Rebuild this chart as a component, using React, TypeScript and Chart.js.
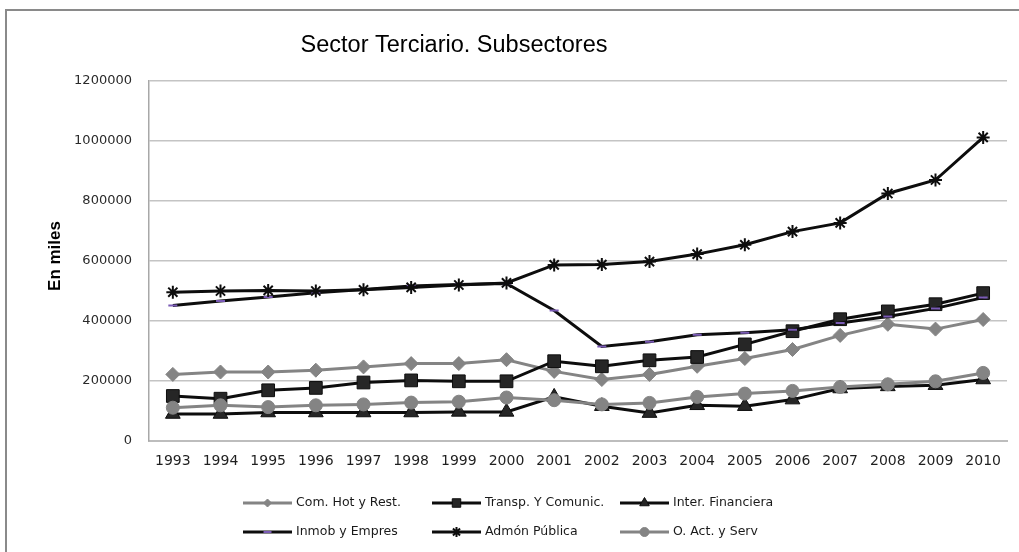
import { useEffect, useRef } from 'react';
import { Chart, registerables } from 'chart.js';
import { drawPoint } from 'chart.js/helpers';

Chart.register(...registerables);

const chartTitle = 'Sector Terciario. Subsectores';
const yAxisTitle = 'En miles';

const years = ['1993', '1994', '1995', '1996', '1997', '1998', '1999', '2000', '2001', '2002', '2003', '2004', '2005', '2006', '2007', '2008', '2009', '2010'];

const comHotRest = [222000, 230000, 230000, 236000, 247000, 258000, 258000, 271000, 232000, 205000, 222000, 249000, 275000, 305000, 352000, 389000, 373000, 405000];
const transpComunic = [150000, 141000, 169000, 177000, 195000, 202000, 199000, 199000, 266000, 249000, 269000, 280000, 322000, 366000, 406000, 432000, 456000, 493000];
const interFinanciera = [90000, 90000, 95000, 95000, 95000, 95000, 97000, 97000, 147000, 116000, 93000, 119000, 116000, 138000, 175000, 182000, 186000, 205000];
const inmobEmpres = [452000, 467000, 480000, 494000, 505000, 517000, 522000, 525000, 435000, 315000, 331000, 354000, 361000, 371000, 393000, 415000, 442000, 478000];
const admonPublica = [496000, 500000, 502000, 500000, 504000, 512000, 520000, 527000, 587000, 588000, 598000, 623000, 654000, 698000, 727000, 825000, 870000, 1012000];
const oActServ = [111000, 119000, 113000, 119000, 122000, 128000, 131000, 145000, 136000, 122000, 127000, 147000, 158000, 167000, 180000, 189000, 199000, 227000];

const seriesLabels = ['Com. Hot y Rest.', 'Transp. Y Comunic.', 'Inter. Financiera', 'Inmob y Empres', 'Admón Pública', 'O. Act. y Serv'];

const yMin = 0;
const yMax = 1200000;
const yStep = 200000;

const GRAY = '#848484';
const BLACK = '#0d0d0d';
const DARK = '#262626';
const PURPLE = '#7a5bb5';

const styles = [
  { line: GRAY, pointStyle: 'rectRot', radius: 7, bg: GRAY, border: GRAY, bw: 1, legendRadius: 4 },
  { line: BLACK, pointStyle: 'rect', radius: 9, bg: DARK, border: BLACK, bw: 1, legendRadius: 6 },
  { line: BLACK, pointStyle: 'triangle', radius: 8.5, bg: DARK, border: BLACK, bw: 1, legendRadius: 5.5 },
  { line: BLACK, pointStyle: 'line', radius: 4.5, bg: PURPLE, border: PURPLE, bw: 2, legendRadius: 4 },
  { line: BLACK, pointStyle: 'star', radius: 6.5, bg: BLACK, border: BLACK, bw: 2, legendRadius: 5 },
  { line: GRAY, pointStyle: 'circle', radius: 6.5, bg: GRAY, border: GRAY, bw: 1, legendRadius: 4.5 },
];

const decorPlugin = {
  id: 'decor',
  beforeDraw(chart: any) {
    const ctx = chart.ctx;
    ctx.save();
    ctx.fillStyle = '#ffffff';
    ctx.fillRect(0, 0, chart.width, chart.height);
    ctx.strokeStyle = '#8a8a8a';
    ctx.lineWidth = 2;
    ctx.beginPath();
    ctx.moveTo(6, chart.height);
    ctx.lineTo(6, 10);
    ctx.lineTo(chart.width, 10);
    ctx.stroke();
    ctx.restore();
  },
  afterDraw(chart: any) {
    const ctx = chart.ctx;
    ctx.save();
    // title
    ctx.fillStyle = '#000';
    ctx.font = '23.5px "Liberation Sans", Arial, sans-serif';
    ctx.textAlign = 'center';
    ctx.textBaseline = 'middle';
    ctx.fillText(chartTitle, 454, 46);
    // y axis title
    ctx.save();
    ctx.translate(55, 256);
    ctx.rotate(-Math.PI / 2);
    ctx.font = 'bold 17px "Liberation Sans", Arial, sans-serif';
    ctx.fillText(yAxisTitle, 0, 0);
    ctx.restore();
    // legend
    const colX = [243, 432, 620];
    const rowY = [503, 532];
    const lineLen = 49;
    ctx.font = '12.5px "DejaVu Sans", sans-serif';
    ctx.textAlign = 'left';
    ctx.textBaseline = 'middle';
    chart.data.datasets.forEach((ds: any, i: number) => {
      const st = styles[i];
      const x = colX[i % 3];
      const y = rowY[Math.floor(i / 3)];
      ctx.strokeStyle = st.line;
      ctx.lineWidth = 3;
      ctx.beginPath();
      ctx.moveTo(x, y);
      ctx.lineTo(x + lineLen, y);
      ctx.stroke();
      ctx.fillStyle = st.bg;
      ctx.strokeStyle = st.border;
      ctx.lineWidth = st.bw;
      drawPoint(ctx, { pointStyle: st.pointStyle as any, radius: st.legendRadius, rotation: 0, borderWidth: st.bw }, x + lineLen / 2, y);
      ctx.fillStyle = '#1a1a1a';
      ctx.fillText(ds.label, x + lineLen + 4, y);
    });
    ctx.restore();
  },
};

export default function App() {
  const ref = useRef<HTMLCanvasElement>(null);

  useEffect(() => {
    const seriesData = [comHotRest, transpComunic, interFinanciera, inmobEmpres, admonPublica, oActServ];
    const datasets = seriesData.map((d, i) => {
      const st = styles[i];
      return {
        label: seriesLabels[i],
        data: d,
        borderColor: st.line,
        borderWidth: 3,
        backgroundColor: st.bg,
        pointStyle: st.pointStyle as any,
        pointRadius: st.radius,
        pointBackgroundColor: st.bg,
        pointBorderColor: st.border,
        pointBorderWidth: st.bw,
        tension: 0,
        fill: false,
        order: seriesData.length - i,
      };
    });

    const chart = new Chart(ref.current as HTMLCanvasElement, {
      type: 'line',
      data: { labels: years, datasets },
      plugins: [decorPlugin],
      options: {
        animation: false,
        responsive: false,
        devicePixelRatio: 1,
        layout: { padding: { top: 81, right: 12, left: 0, bottom: 0 } },
        plugins: {
          legend: { display: false },
          title: { display: false },
          tooltip: { enabled: false },
        },
        scales: {
          x: {
            type: 'category',
            offset: true,
            grid: { display: false, drawTicks: false },
            border: { display: true, color: '#bdbdbd', width: 2 },
            ticks: {
              padding: 12,
              autoSkip: false,
              maxRotation: 0,
              color: '#1f1f1f',
              font: { family: '"DejaVu Sans", sans-serif', size: 14 },
            },
            afterFit: (s: any) => {
              s.height = 111;
            },
          },
          y: {
            min: yMin,
            max: yMax,
            grid: { color: '#c4c4c4', lineWidth: 1.5, drawTicks: false },
            border: { display: true, color: '#a8a8a8', width: 1.5 },
            ticks: {
              stepSize: yStep,
              padding: 17,
              color: '#2a2a2a',
              font: { family: '"DejaVu Sans", sans-serif', size: 13 },
              callback: (v: any) => String(v),
            },
            afterFit: (s: any) => {
              s.width = 149;
            },
          },
        },
      },
    });
    return () => chart.destroy();
  }, []);

  return (
    <div style={{ position: 'fixed', left: 0, top: 0, width: 1019, height: 552, background: '#fff' }}>
      <canvas ref={ref} width={1019} height={552} style={{ display: 'block', width: 1019, height: 552 }} />
    </div>
  );
}
